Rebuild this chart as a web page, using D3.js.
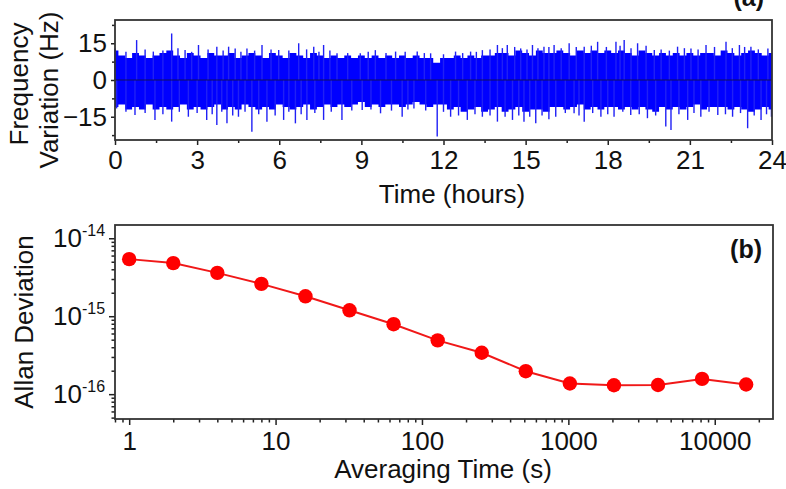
<!DOCTYPE html>
<html>
<head>
<meta charset="utf-8">
<script src="https://cdn.jsdelivr.net/npm/d3@7"></script>
<style>
  body { margin: 0; background: #fff; }
  text { font-family: "Liberation Sans", Arial, sans-serif; fill: #111; }
</style>
</head>
<body>
<svg id="chart" width="786" height="489"></svg>
<script>
const bandTime = [0,0.25,0.5,0.75,1,1.25,1.5,1.75,2,2.25,2.5,2.75,3,3.25,3.5,3.75,4,4.25,4.5,4.75,5,5.25,5.5,5.75,6,
  6.25,6.5,6.75,7,7.25,7.5,7.75,8,8.25,8.5,8.75,9,9.25,9.5,9.75,10,10.25,10.5,10.75,11,11.25,11.5,11.75,12,
  12.25,12.5,12.75,13,13.25,13.5,13.75,14,14.25,14.5,14.75,15,15.25,15.5,15.75,16,16.25,16.5,16.75,17,17.25,17.5,17.75,18,
  18.25,18.5,18.75,19,19.25,19.5,19.75,20,20.25,20.5,20.75,21,21.25,21.5,21.75,22,22.25,22.5,22.75,23,23.25,23.5,23.75,24];
const bandHi = [12,10,9,11,10,9,10,11,12, 10,9,11,10,9,11,10,10, 11,9,10,11,10,9,11,10,
  9,11,10,9,11,10,9,10, 9,10,9,10,9,10,9,10, 9,10,9,10,9,9,7,9,
  9,10,9,10,9,10,10,11, 11,10,12,11,10,12,11,11, 12,11,10,12,11,12,11,12,
  11,12,11,10,12,11,10,11, 10,11,10,11,10,11,11,10, 12,11,10,11,12,11,10,11];
const bandLo = [-11,-10,-12,-11,-12,-10,-12,-11,-12, -11,-10,-12,-11,-12,-11,-10,-12, -11,-12,-10,-11,-12,-11,-12,-10,
  -11,-12,-11,-10,-12,-11,-10,-11, -10,-11,-10,-9,-11,-10,-11,-10, -10,-11,-10,-9,-10,-11,-10,-10,
  -12,-11,-13,-12,-11,-13,-12,-11, -13,-12,-11,-13,-12,-12,-13,-11, -11,-12,-11,-10,-12,-11,-12,-11,
  -11,-12,-11,-12,-11,-12,-13,-11, -12,-11,-12,-11,-10,-12,-11,-11, -11,-12,-11,-12,-13,-12,-11,-12];

const spikeUpTime = [0.0,0.4,0.79,1.1,1.4,1.75,2.07,2.3,2.56,2.8,3.05,3.4,3.72,3.95,4.15,4.39,4.6,4.82,5.1,5.37,5.7,5.98,
  6.35,6.71,7.0,7.26,7.45,7.62,7.85,8.11,8.5,8.96,9.25,9.51,9.9,10.25,10.6,11.04,11.3,11.53,12.0,12.44,12.7,12.99,
  13.2,13.42,13.7,13.97,14.15,14.33,14.6,14.82,15.05,15.25,15.45,15.67,15.85,16.04,16.3,16.59,16.85,17.14,17.4,
  17.63,17.95,18.3,18.45,18.6,18.85,19.09,19.4,19.7,19.95,20.25,20.55,20.8,21.04,21.3,21.59,21.9,22.32,22.55,
  22.81,23.0,23.23,23.5,23.85];
const spikeUpVal = [12.9,11.5,16.3,12.5,11.6,12,19.0,13,12.2,11.5,14.3,12.5,13.6,12,13.6,12.9,11.5,12.9,12,14.3,12.5,12.2,
  12,15.0,12.5,13.6,11.5,14.3,12,10.9,11,10.9,11.5,12.2,11,11.6,11.5,11.6,11,10.9,10.5,11.6,11,11.6,
  11.5,12.2,12.5,14.3,13,14.3,13.5,12.9,12.5,14.3,13,13.6,13.5,14.3,13,15.0,13.5,13.6,14,
  15.6,13.5,15.6,14,16.3,13,15.0,14,12.2,12.5,12,13.6,13,12.9,12.5,14.3,13.5,15.6,13,
  14.3,13.5,13.6,12.5,12.9];
const spikeDownTime = [0.06,0.4,0.73,1.1,1.46,1.75,2.07,2.35,2.68,3.0,3.35,3.55,3.72,3.9,4.09,4.3,4.51,4.75,5.0,5.25,5.55,
  5.85,6.16,6.35,6.59,6.8,7.01,7.3,7.62,7.9,8.29,8.65,9.03,9.35,9.7,10.1,10.49,10.7,10.92,11.35,11.77,12.0,12.26,
  12.55,12.87,13.15,13.42,13.7,13.97,14.25,14.52,14.75,14.94,15.15,15.37,15.6,15.85,16.1,16.45,16.77,16.95,17.14,
  17.45,17.75,18.0,18.23,18.55,18.84,19.15,19.45,19.75,20.12,20.31,20.6,20.92,21.15,21.4,21.7,22.02,22.3,22.56,
  22.85,23.11,23.35,23.6,23.8,23.98];
const spikeDownVal = [-11.6,-13,-14.3,-13.5,-16.3,-14,-17.0,-13,-15.0,-13.5,-16.3,-14,-18.4,-13,-17.7,-14.5,-15.0,-13,-21.1,-14,-17.0,
  -14.5,-16.3,-13,-17.7,-14,-16.3,-13.5,-16.3,-13,-16.3,-12.5,-12.2,-12,-13.6,-12.5,-15.0,-12,-11.6,-12.5,-23.1,-13,-15.0,
  -14.5,-16.3,-14,-15.0,-14.5,-17.0,-15,-16.3,-14.5,-17.0,-15,-17.7,-14.5,-16,-15.0,-13.5,-13.6,-14.5,-17.0,
  -13.5,-15.0,-14,-15.0,-13,-14.3,-14,-15.6,-14.5,-19.0,-20.4,-14,-16.3,-13.5,-15.0,-13,-14.3,-14,-15.0,
  -13.5,-19.7,-14.5,-16.3,-14,-15.0];

const hourTicks = [0,3,6,9,12,15,18,21,24];
const hzTicks = [-15,0,15];

// ---- panel (b): Allan deviation
const tau = [1,2,4,8,16,32,64,128,256,512,1024,2048,4096,8192,16384];
const adev = [5.4e-15,4.8e-15,3.6e-15,2.6e-15,1.8e-15,1.19e-15,7.9e-16,4.9e-16,3.4e-16,1.97e-16,
  1.37e-16,1.3e-16,1.31e-16,1.57e-16,1.33e-16];
const tauTicks = [1,10,100,1000,10000];
const adevTicks = [1e-14,1e-15,1e-16];
const adevExp = ["-14","-15","-16"];

const svg = d3.select('#chart');
const ink = '#222';

// ================= panel (a) =================
const xa = d3.scaleLinear().domain([0, 24]).range([115, 772]);
const ya = d3.scaleLinear().domain([-24.5, 24.5]).range([140, 20]);

const gA = svg.append('g');

gA.append('path')
  .datum(bandTime.map((t, i) => [t, bandHi[i], bandLo[i]]))
  .attr('fill', '#0000ff')
  .attr('d', d3.area().curve(d3.curveStep).x(d => xa(d[0])).y0(d => ya(d[2])).y1(d => ya(d[1])));

gA.append('g').selectAll('line')
  .data(spikeUpTime.map((t, i) => [t, spikeUpVal[i]]).concat(spikeDownTime.map((t, i) => [t, spikeDownVal[i]])))
  .join('line')
  .attr('x1', d => xa(d[0])).attr('x2', d => xa(d[0]))
  .attr('y1', ya(0)).attr('y2', d => ya(d[1]))
  .attr('stroke', '#2020f5')
  .attr('stroke-width', 1.4);

gA.append('line')
  .attr('x1', xa(0)).attr('x2', xa(24))
  .attr('y1', ya(0)).attr('y2', ya(0))
  .attr('stroke', '#10105a').attr('stroke-width', 1);

// ticks
gA.append('g').attr('transform', `translate(0,${ya.range()[0]})`)
  .call(d3.axisBottom(xa).tickValues(hourTicks).tickSize(5).tickSizeOuter(0).tickPadding(6))
  .call(g => g.select('.domain').remove())
  .call(g => g.selectAll('text').attr('font-size', 26).attr('fill', '#111'));
gA.append('g').attr('transform', `translate(0,${ya.range()[0]})`)
  .call(d3.axisBottom(xa).tickValues(hourTicks.slice(1).map(h => h - 1.5)).tickSize(3).tickFormat(''))
  .call(g => g.select('.domain').remove());
gA.append('g').attr('transform', `translate(${xa.range()[0]},0)`)
  .call(d3.axisLeft(ya).tickValues(hzTicks).tickSize(4).tickPadding(4))
  .call(g => g.select('.domain').remove())
  .call(g => g.selectAll('text').attr('font-size', 26).attr('fill', '#111'));
gA.append('g').attr('transform', `translate(${xa.range()[0]},0)`)
  .call(d3.axisLeft(ya).tickValues([-22.5,-7.5,7.5,22.5]).tickSize(3).tickFormat(''))
  .call(g => g.select('.domain').remove());
gA.selectAll('.tick line').attr('stroke', ink).attr('stroke-width', 1.5);

gA.append('rect')
  .attr('x', 115).attr('y', 20).attr('width', 657).attr('height', 120)
  .attr('fill', 'none').attr('stroke', '#333').attr('stroke-width', 1.8);

gA.append('text').attr('x', 452).attr('y', 203).attr('text-anchor', 'middle')
  .attr('font-size', 26).text('Time (hours)');
gA.append('text').attr('transform', 'translate(28,84) rotate(-90)').attr('text-anchor', 'middle')
  .attr('font-size', 26).text('Frequency');
gA.append('text').attr('transform', 'translate(58,90) rotate(-90)').attr('text-anchor', 'middle')
  .attr('font-size', 26).text('Variation (Hz)');
gA.append('text').attr('x', 764).attr('y', 6).attr('text-anchor', 'end')
  .attr('font-size', 25).attr('font-weight', 'bold').text('(a)');

// ================= panel (b) =================
const xb = d3.scaleLog().domain([0.8, 25000]).range([115, 773]);
const yb = d3.scaleLog().domain([4.8e-17, 1.48e-14]).range([419, 225]);

const gB = svg.append('g');

const minorX = [];
[0.1, 1, 10, 100, 1000, 10000].forEach(dec => {
  for (let k = 2; k <= 9; k++) {
    const v = k * dec;
    if (v >= 0.8 && v <= 25000) minorX.push(v);
  }
});
const minorY = [];
[1e-17, 1e-16, 1e-15, 1e-14].forEach(dec => {
  for (let k = 2; k <= 9; k++) {
    const v = k * dec;
    if (v >= 4.8e-17 && v <= 1.48e-14) minorY.push(v);
  }
});

gB.append('g').attr('transform', 'translate(0,419)')
  .call(d3.axisBottom(xb).tickValues(tauTicks).tickSize(6).tickPadding(7).tickFormat(d3.format('d')))
  .call(g => g.select('.domain').remove())
  .call(g => g.selectAll('text').attr('font-size', 26).attr('fill', '#111'));
gB.append('g').attr('transform', 'translate(0,419)')
  .call(d3.axisBottom(xb).tickValues(minorX).tickSize(3.5).tickFormat(''))
  .call(g => g.select('.domain').remove());
gB.append('g').attr('transform', 'translate(115,0)')
  .call(d3.axisLeft(yb).tickValues(adevTicks).tickSize(6).tickFormat(''))
  .call(g => g.select('.domain').remove());
gB.append('g').attr('transform', 'translate(115,0)')
  .call(d3.axisLeft(yb).tickValues(minorY).tickSize(3.5).tickFormat(''))
  .call(g => g.select('.domain').remove());
gB.selectAll('.tick line').attr('stroke', ink).attr('stroke-width', 1.5);

// power-of-ten labels
gB.append('g').selectAll('text')
  .data(adevTicks)
  .join('text')
  .attr('x', 82).attr('y', d => yb(d) + 9)
  .attr('text-anchor', 'end')
  .attr('font-size', 26)
  .text('10');
gB.append('g').selectAll('text')
  .data(adevTicks)
  .join('text')
  .attr('x', 82).attr('y', d => yb(d) - 2)
  .attr('font-size', 16)
  .text((d, i) => adevExp[i]);

gB.append('rect')
  .attr('x', 115).attr('y', 225).attr('width', 658).attr('height', 194)
  .attr('fill', 'none').attr('stroke', '#333').attr('stroke-width', 1.8);

gB.append('path')
  .datum(tau.map((t, i) => [t, adev[i]]))
  .attr('fill', 'none').attr('stroke', '#f01818').attr('stroke-width', 2)
  .attr('d', d3.line().x(d => xb(d[0])).y(d => yb(d[1])));

gB.append('g').selectAll('circle')
  .data(tau.map((t, i) => [t, adev[i]]))
  .join('circle')
  .attr('cx', d => xb(d[0])).attr('cy', d => yb(d[1]))
  .attr('r', 7.2).attr('fill', '#ff0000');

gB.append('text').attr('x', 443).attr('y', 478).attr('text-anchor', 'middle')
  .attr('font-size', 26).text('Averaging Time (s)');
gB.append('text').attr('transform', 'translate(33,322) rotate(-90)').attr('text-anchor', 'middle')
  .attr('font-size', 26).text('Allan Deviation');
gB.append('text').attr('x', 762).attr('y', 258).attr('text-anchor', 'end')
  .attr('font-size', 25).attr('font-weight', 'bold').text('(b)');
</script>
</body>
</html>
